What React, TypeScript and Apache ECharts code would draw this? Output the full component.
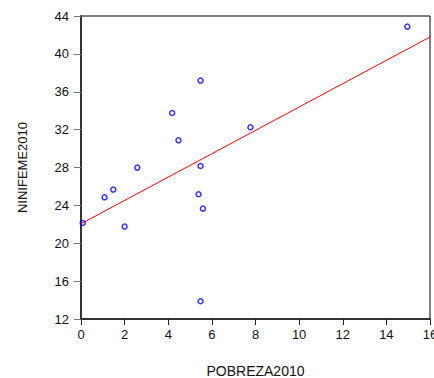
import React, { useEffect, useRef } from "react";
import * as echarts from "echarts";

// POBREZA2010 (x) and NINIFEME2010 (y) observations
const pobreza2010 = [5.48, 4.18, 4.47, 7.77, 2.58, 5.48, 0.08, 1.08, 1.48, 2.0, 5.39, 5.59, 5.48, 14.96];
const ninifeme2010 = [37.18, 33.76, 30.87, 32.25, 27.99, 28.16, 22.14, 24.85, 25.67, 21.76, 25.17, 23.66, 13.87, 42.88];

const xRange = [0, 16];
const yRange = [12, 44];

// Least-squares fit of NINIFEME2010 on POBREZA2010
function fitLine(xs: number[], ys: number[]) {
  const n = xs.length;
  const mx = xs.reduce((a, b) => a + b, 0) / n;
  const my = ys.reduce((a, b) => a + b, 0) / n;
  let sxy = 0;
  let sxx = 0;
  for (let i = 0; i < n; i++) {
    sxy += (xs[i] - mx) * (ys[i] - my);
    sxx += (xs[i] - mx) * (xs[i] - mx);
  }
  const slope = sxy / sxx;
  return { slope, intercept: my - slope * mx };
}

export default function App() {
  const ref = useRef<HTMLDivElement>(null);

  useEffect(() => {
    document.body.style.margin = "0";
    document.body.style.overflow = "hidden";
    if (!ref.current) return;
    const chart = echarts.init(ref.current, null, { renderer: "svg" });
    const { slope, intercept } = fitLine(pobreza2010, ninifeme2010);
    const fit = xRange.map((x) => [x, intercept + slope * x]);
    const points = pobreza2010.map((x, i) => [x, ninifeme2010[i]]);
    const font = "Liberation Sans, Arial, sans-serif";

    chart.setOption({
      animation: false,
      backgroundColor: "#ffffff",
      grid: {
        left: 81,
        top: 16,
        right: 4,
        bottom: 59,
        outerBoundsMode: "none",
        containLabel: false,
        show: true,
        borderColor: "#000000",
        borderWidth: 1,
        backgroundColor: "transparent",
      },
      xAxis: {
        type: "value",
        min: xRange[0],
        max: xRange[1],
        interval: 2,
        name: "POBREZA2010",
        nameLocation: "middle",
        nameGap: 45,
        nameTextStyle: { fontFamily: font, fontSize: 14, lineHeight: 14, color: "#111" },
        axisLine: { show: true, onZero: false, lineStyle: { color: "#333", width: 2 } },
        axisTick: { show: true, inside: false, length: 6, lineStyle: { color: "#222", width: 1 } },
        axisLabel: { margin: 9, fontFamily: font, fontSize: 13, color: "#111", showMaxLabel: true },
        splitLine: { show: false },
      },
      yAxis: {
        type: "value",
        min: yRange[0],
        max: yRange[1],
        interval: 4,
        name: "NINIFEME2010",
        nameLocation: "middle",
        nameRotate: 90,
        nameGap: 52,
        nameTextStyle: { fontFamily: font, fontSize: 13, color: "#111" },
        axisLine: { show: true, onZero: false, lineStyle: { color: "#333", width: 2 } },
        axisTick: { show: true, inside: false, length: 7, lineStyle: { color: "#777", width: 1 } },
        axisLabel: { margin: 12, fontFamily: font, fontSize: 13, color: "#111" },
        splitLine: { show: false },
      },
      series: [
        {
          type: "line",
          data: fit,
          showSymbol: false,
          symbol: "none",
          lineStyle: { color: "#ff0000", width: 1 },
          silent: true,
          z: 2,
        },
        {
          type: "scatter",
          data: points,
          symbol: "circle",
          symbolSize: 5,
          itemStyle: { color: "rgba(255,255,255,0)", borderColor: "#0000ff", borderWidth: 1.5 },
          z: 3,
        },
      ],
    });

    return () => chart.dispose();
  }, []);

  return <div ref={ref} style={{ width: 434, height: 378 }} />;
}
